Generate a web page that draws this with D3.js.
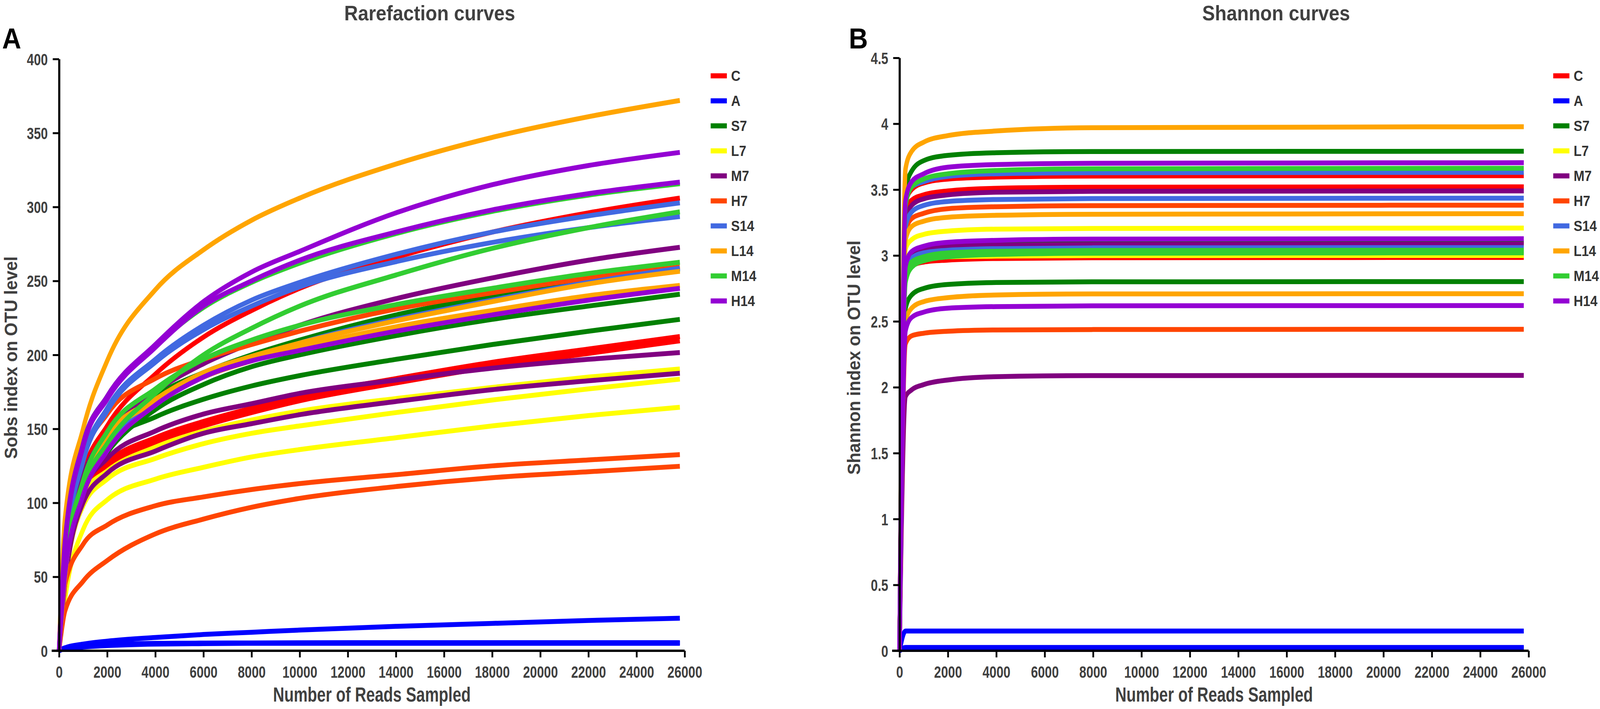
<!DOCTYPE html>
<html>
<head>
<meta charset="utf-8">
<script src="https://cdn.jsdelivr.net/npm/d3@7"></script>
<style>
  html, body { margin: 0; padding: 0; overflow: hidden; background: #fff; }
  svg { display: block; width: 100vw; height: 100vh; }
  .narrow { font-family: 'Liberation Sans', Arial, sans-serif; font-weight: bold; fill: #404040; }
  .wide { font-family: 'Liberation Sans', Arial, sans-serif; font-weight: bold; }
</style>
</head>
<body>
<div id="chart"></div>
<script>
////////////////////////////////////////////////////////////////////////////////
// DATA
////////////////////////////////////////////////////////////////////////////////
const groups = ['C', 'A', 'S7', 'L7', 'M7', 'H7', 'S14', 'L14', 'M14', 'H14'];
const groupColors = ['#FF0000', '#0000FF', '#008000', '#FFFF00', '#800080',
                     '#FF4500', '#4169E1', '#FFA500', '#32CD32', '#9400D3'];

const readTicks = [0, 2000, 4000, 6000, 8000, 10000, 12000, 14000, 16000, 18000, 20000, 22000, 24000, 26000];
const sobsTicks = [0, 50, 100, 150, 200, 250, 300, 350, 400];
const shannonTicks = [0, 0.5, 1, 1.5, 2, 2.5, 3, 3.5, 4, 4.5];

// rarefaction: reads sampled, then Sobs per replicate
const sobsReads = [0, 250, 1000, 2000, 4000, 6000, 8000, 10000, 14000, 18000, 22000, 25800];
const sobsC = [
  [0, 60, 120, 152, 187, 212, 230, 245, 266, 283, 296, 306],
  [0, 55, 108, 127, 144, 155, 164, 172, 184, 195, 204, 212.4],
  [0, 53, 105, 124, 141, 152, 161, 169, 181, 192, 201, 209.5]
];
const sobsA = [
  [0, 2, 4.5, 6.5, 9, 11, 12.5, 14, 16.5, 18.5, 20.5, 22],
  [0, 1.5, 2.5, 3.5, 4.5, 4.8, 5, 5, 5, 5, 5, 5],
  [0, 2, 3, 4, 5, 5.2, 5.3, 5.4, 5.5, 5.5, 5.5, 5.5]
];
const sobsS7 = [
  [0, 62, 118, 142, 172, 188, 200, 210, 227, 240, 251, 258],
  [0, 55, 108, 134, 163, 180, 192, 200, 213, 224, 233, 241],
  [0, 50, 113, 140, 158, 170, 179, 186, 197, 207, 216, 224]
];
const sobsL7 = [
  [0, 50, 106, 121.5, 137.6, 148.5, 156, 162, 170.5, 178, 185, 190.5],
  [0, 45, 98, 116, 130, 140, 147, 152, 161, 169.5, 177, 183.6],
  [0, 35, 82, 102, 116, 124, 131, 136, 144, 152, 159, 164.6]
];
const sobsM7 = [
  [0, 60, 118, 145, 175, 194, 208, 220, 238, 252, 264, 272.7],
  [0, 50, 108, 130, 148.5, 160, 167, 174, 183, 191, 197, 201.6],
  [0, 45, 100, 120, 135, 147, 153.5, 159.6, 168.5, 176.5, 182.5, 187.6]
];
const sobsH7 = [
  [0, 62, 130, 160, 184, 197, 207, 216, 231, 242, 252, 259.4],
  [0, 45, 72, 85, 98, 104, 109, 113, 119, 125, 129, 132.6],
  [0, 27, 47, 61, 79, 89, 97, 103, 111, 117, 121, 124.7]
];
const sobsS14 = [
  [0, 65, 130, 164, 197, 220, 237, 249, 268, 283, 294, 302.8],
  [0, 65, 128, 162, 195, 217, 233, 246, 263, 276, 286, 293.5],
  [0, 55, 112, 140, 168, 185, 197, 208, 224, 237, 249, 258.6]
];
const sobsL14 = [
  [0, 90, 150, 196, 244, 271, 291, 306, 329, 347, 361, 372],
  [0, 50, 112, 145, 170, 188, 199, 208, 223, 236, 248, 256.5],
  [0, 50, 110, 143, 168, 185, 196, 205, 219, 230, 240, 247]
];
const sobsM14 = [
  [0, 72, 140, 172, 206, 232, 249, 262, 282, 297, 308, 315.7],
  [0, 55, 110, 140, 174, 200, 218, 233, 254, 272, 286, 296.7],
  [0, 58, 115, 148, 177, 197, 210, 220, 234, 245, 255, 262.6]
];
const sobsH14 = [
  [0, 75, 140, 172, 207, 236, 256, 270, 296, 315, 328, 336.9],
  [0, 72, 138, 170, 205, 233, 250, 264, 283, 298, 309, 316.8],
  [0, 52, 105, 135, 166, 185, 196, 203, 216, 227, 237, 245]
];

// shannon: reads sampled, then index per replicate
const shannonReads = [0, 250, 500, 1000, 2000, 4000, 8000, 25800];
const shannonC = [
  [0, 3.40, 3.50, 3.55, 3.58, 3.595, 3.603, 3.606],
  [0, 3.30, 3.42, 3.46, 3.49, 3.51, 3.518, 3.521],
  [0, 2.88, 2.92, 2.95, 2.965, 2.977, 2.983, 2.985]
];
const shannonA = [
  [0, 0.15, 0.15, 0.15, 0.15, 0.15, 0.15, 0.15],
  [0, 0.02, 0.02, 0.02, 0.02, 0.02, 0.02, 0.02],
  [0, 0.025, 0.025, 0.025, 0.025, 0.025, 0.025, 0.025]
];
const shannonS7 = [
  [0, 3.50, 3.64, 3.72, 3.76, 3.78, 3.789, 3.791],
  [0, 2.92, 3.01, 3.05, 3.08, 3.09, 3.098, 3.101],
  [0, 2.60, 2.70, 2.75, 2.78, 2.795, 2.80, 2.802]
];
const shannonL7 = [
  [0, 3.05, 3.12, 3.16, 3.185, 3.20, 3.205, 3.208],
  [0, 2.90, 2.98, 3.01, 3.03, 3.04, 3.047, 3.05],
  [0, 2.93, 2.96, 2.98, 2.99, 2.995, 2.999, 3.00]
];
const shannonM7 = [
  [0, 3.26, 3.38, 3.43, 3.46, 3.48, 3.487, 3.490],
  [0, 2.90, 3.00, 3.04, 3.065, 3.078, 3.084, 3.087],
  [0, 1.93, 1.98, 2.02, 2.055, 2.08, 2.088, 2.09]
];
const shannonH7 = [
  [0, 3.18, 3.28, 3.32, 3.355, 3.37, 3.378, 3.382],
  [0, 2.88, 2.96, 2.99, 3.01, 3.022, 3.028, 3.03],
  [0, 2.33, 2.39, 2.41, 2.425, 2.435, 2.438, 2.44]
];
const shannonS14 = [
  [0, 3.40, 3.52, 3.56, 3.60, 3.62, 3.628, 3.631],
  [0, 3.22, 3.33, 3.38, 3.41, 3.425, 3.432, 3.435],
  [0, 2.90, 2.98, 3.02, 3.04, 3.052, 3.058, 3.060]
];
const shannonL14 = [
  [0, 3.66, 3.79, 3.86, 3.91, 3.945, 3.97, 3.977],
  [0, 3.12, 3.22, 3.26, 3.29, 3.305, 3.313, 3.317],
  [0, 2.50, 2.60, 2.65, 2.68, 2.70, 2.708, 2.71]
];
const shannonM14 = [
  [0, 3.38, 3.52, 3.58, 3.62, 3.645, 3.658, 3.662],
  [0, 2.80, 2.91, 2.96, 2.99, 3.008, 3.017, 3.020],
  [0, 2.86, 2.95, 2.99, 3.02, 3.032, 3.038, 3.04]
];
const shannonH14 = [
  [0, 3.42, 3.56, 3.62, 3.67, 3.69, 3.70, 3.704],
  [0, 2.92, 3.03, 3.07, 3.10, 3.115, 3.124, 3.127],
  [0, 2.43, 2.53, 2.57, 2.60, 2.612, 2.618, 2.62]
];

const sobsByGroup = [sobsC, sobsA, sobsS7, sobsL7, sobsM7, sobsH7, sobsS14, sobsL14, sobsM14, sobsH14];
const shannonByGroup = [shannonC, shannonA, shannonS7, shannonL7, shannonM7, shannonH7, shannonS14, shannonL14, shannonM14, shannonH14];

////////////////////////////////////////////////////////////////////////////////
// PANEL
////////////////////////////////////////////////////////////////////////////////
const W = 4550, H = 1814;
const SQUEEZE = 0.85;   // no Arial Narrow installed, so squeeze Liberation Sans

// drawing space is the reference's 4550x1814, stretched to whatever the window is
const svg = d3.select('#chart').append('svg')
  .attr('viewBox', `0 0 ${W} ${H}`)
  .attr('preserveAspectRatio', 'none');

function narrowText(parent, x, y, rotate, size, str, squeeze = SQUEEZE) {
  return parent.append('text').attr('class', 'narrow')
    .attr('transform', `translate(${x},${y}) rotate(${rotate}) scale(${squeeze},1)`)
    .attr('text-anchor', 'middle')
    .style('font-size', size + 'px')
    .text(str);
}

function drawPanel(opts) {
  const g = svg.append('g');

  const x = d3.scaleLinear().domain([0, 26000]).range([opts.left, opts.right]);
  const y = d3.scaleLinear().domain([0, opts.yMax]).range([opts.bottom, opts.top]);

  // curves, legend order, later groups on top
  const line = d3.line()
    .x(d => x(d[0]))
    .y(d => y(d[1]))
    .curve(d3.curveMonotoneX);

  opts.byGroup.forEach((reps, gi) => {
    reps.forEach(vals => {
      g.append('path')
        .datum(opts.reads.map((r, i) => [r, vals[i]]))
        .attr('d', line)
        .attr('fill', 'none')
        .attr('stroke', groupColors[gi])
        .attr('stroke-width', 12.5)
        .attr('stroke-linejoin', 'round');
    });
  });

  // axes
  const yAxis = g.append('g')
    .attr('transform', `translate(${opts.left},0)`)
    .call(d3.axisLeft(y).tickValues(opts.yTicks).tickSize(18).tickSizeOuter(0)
      .tickPadding(14).tickFormat(d => String(d)));

  const xAxis = g.append('g')
    .attr('transform', `translate(0,${opts.bottom})`)
    .call(d3.axisBottom(x).tickValues(readTicks).tickSize(17).tickSizeOuter(0)
      .tickPadding(22).tickFormat(d => String(d)));

  // x axis line runs a little past the y axis, as in Prism
  xAxis.select('.domain').attr('d', `M${opts.left - 21},0H${opts.right}`);

  [xAxis, yAxis].forEach(ax => {
    ax.select('.domain').attr('stroke', '#000').attr('stroke-width', 6);
    ax.selectAll('.tick line').attr('stroke', '#000').attr('stroke-width', 5);
    ax.selectAll('.tick text')
      .attr('class', 'narrow')
      .style('font-size', '42px')
      .attr('fill', '#404040');
  });
  yAxis.selectAll('.tick text')
    .attr('x', -32 / SQUEEZE)
    .attr('dy', '0.36em')
    .attr('transform', `scale(${SQUEEZE},1)`);
  xAxis.selectAll('.tick text')
    .attr('transform', `scale(${SQUEEZE},1)`);

  // titles
  narrowText(g, opts.titleX, 52, 0, 54, opts.title, 1);
  narrowText(g, (opts.left + opts.right) / 2, 1795, 0, 52, 'Number of Reads Sampled');
  narrowText(g, opts.yLabelX, 915, -90, 52, opts.yLabel);

  g.append('text').attr('class', 'wide')
    .attr('x', opts.letterX).attr('y', 124)
    .style('font-size', '75px')
    .attr('fill', '#000')
    .text(opts.letter);

  // legend
  const legend = g.append('g').attr('transform', `translate(${opts.legendX},194)`);
  groups.forEach((name, i) => {
    const row = legend.append('g').attr('transform', `translate(0,${i * 64})`);
    row.append('rect')
      .attr('x', 0).attr('y', -6.5)
      .attr('width', 46).attr('height', 13)
      .attr('fill', groupColors[i]);
    row.append('text').attr('class', 'wide')
      .attr('x', 58).attr('y', 0).attr('dy', '0.36em')
      .style('font-size', '37px')
      .attr('fill', '#333')
      .text(name);
  });
}

drawPanel({
  left: 168, right: 1947, top: 151, bottom: 1665,
  yMax: 400, yTicks: sobsTicks,
  reads: sobsReads, byGroup: sobsByGroup,
  title: 'Rarefaction curves', titleX: 1222,
  letter: 'A', letterX: 6,
  yLabel: 'Sobs index on OTU level', yLabelX: 49,
  legendX: 2021
});

drawPanel({
  left: 2558, right: 4347, top: 148, bottom: 1665,
  yMax: 4.5, yTicks: shannonTicks,
  reads: shannonReads, byGroup: shannonByGroup,
  title: 'Shannon curves', titleX: 3629,
  letter: 'B', letterX: 2414,
  yLabel: 'Shannon index on OTU level', yLabelX: 2446,
  legendX: 4417
});
</script>
</body>
</html>
